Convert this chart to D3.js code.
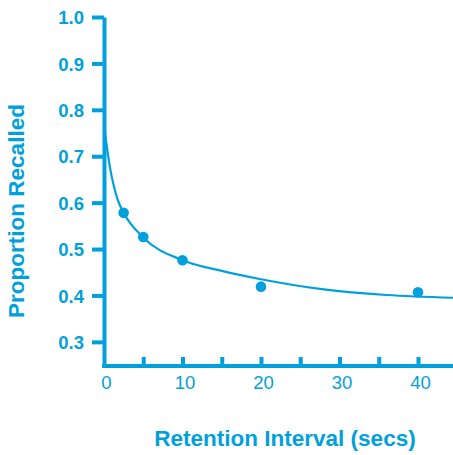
<!DOCTYPE html>
<html>
<head>
<meta charset="utf-8">
<script src="https://cdn.jsdelivr.net/npm/d3@7"></script>
<style>
	body { margin: 0; background: #fff; }
	svg text { font-family: "Liberation Sans", Arial, sans-serif; fill: #00a0dc; }
</style>
</head>
<body>
<svg id="chart" width="453" height="455"></svg>
<script>

// observed data points (retention interval in secs, proportion recalled)
var pointSecs = [2.5, 5, 10, 20, 40]
var pointProp = [0.578, 0.526, 0.476, 0.419, 0.407]

// fitted curve
var curveSecs = [0, 0.75, 1.75, 2.5, 5, 10, 15, 20, 28, 36, 44.5]
var curveProp = [0.767, 0.677, 0.606, 0.578, 0.525, 0.476, 0.453, 0.435, 0.413, 0.401, 0.395]

// axis ticks
var yTicks = [0.3, 0.4, 0.5, 0.6, 0.7, 0.8, 0.9, 1.0]
var xTickMarks = [5, 10, 15, 20, 25, 30, 35, 40]
var xTickLabels = [0, 10, 20, 30, 40]

var xTitle = "Retention Interval (secs)"
var yTitle = "Proportion Recalled"

var blue = "#00a0dc"

var svg = d3.select("#chart")

var xScale = d3.scaleLinear().domain([0, 44.5]).range([104, 453.3])
var yScale = d3.scaleLinear().domain([0.248, 1.0]).range([366, 17])

// y axis
var yAxis = svg.append("g")
	.attr("transform", "translate(104,0)")
	.call(d3.axisLeft(yScale).tickValues(yTicks).tickFormat(d3.format(".1f"))
		.tickSize(12).tickSizeOuter(0).tickPadding(8))
yAxis.select(".domain").attr("stroke", blue).attr("stroke-width", 4)
yAxis.selectAll(".tick line").attr("stroke", blue).attr("stroke-width", 4)
yAxis.selectAll(".tick text")
	.attr("font-size", 18.5).attr("font-weight", "bold")
	.attr("fill", blue).attr("dy", "0.36em")

// x axis: tick marks point inward
var xAxis = svg.append("g")
	.attr("transform", "translate(0,366)")
	.call(d3.axisBottom(xScale).tickValues(xTickMarks).tickFormat("")
		.tickSize(-9).tickSizeOuter(0))
xAxis.select(".domain").attr("stroke", blue).attr("stroke-width", 4)
	.attr("d", "M" + (xScale(0) - 2) + ",0H453")
xAxis.selectAll(".tick line").attr("stroke", blue).attr("stroke-width", 4)

var xLabels = svg.append("g")
	.attr("transform", "translate(0,366)")
	.call(d3.axisBottom(xScale).tickValues(xTickLabels).tickSize(0).tickSizeOuter(0))
xLabels.select(".domain").remove()
xLabels.selectAll(".tick text")
	.attr("font-size", 18.5).attr("fill", blue)
	.attr("y", 23).attr("dy", 0)
	.attr("dx", 2)

// fitted curve
var curveData = curveSecs.map(function(s, i){ return {x: s, y: curveProp[i]} })
var line = d3.line()
	.x(function(d){ return xScale(d.x) })
	.y(function(d){ return yScale(d.y) })
	.curve(d3.curveMonotoneX)

svg.append("path")
	.datum(curveData)
	.attr("d", line)
	.attr("fill", "none")
	.attr("stroke", blue)
	.attr("stroke-width", 2.2)

// data points
var pointData = pointSecs.map(function(s, i){ return {x: s, y: pointProp[i]} })
svg.append("g")
	.selectAll("circle")
	.data(pointData)
	.enter()
	.append("circle")
	.attr("cx", function(d){ return xScale(d.x) })
	.attr("cy", function(d){ return yScale(d.y) })
	.attr("r", 5.3)
	.attr("fill", blue)

// axis titles
svg.append("text")
	.attr("x", 285).attr("y", 446)
	.attr("text-anchor", "middle")
	.attr("font-size", 22.5).attr("font-weight", "bold")
	.text(xTitle)

svg.append("text")
	.attr("transform", "translate(24,211) rotate(-90)")
	.attr("text-anchor", "middle")
	.attr("font-size", 22.5).attr("font-weight", "bold")
	.text(yTitle)

</script>
</body>
</html>
